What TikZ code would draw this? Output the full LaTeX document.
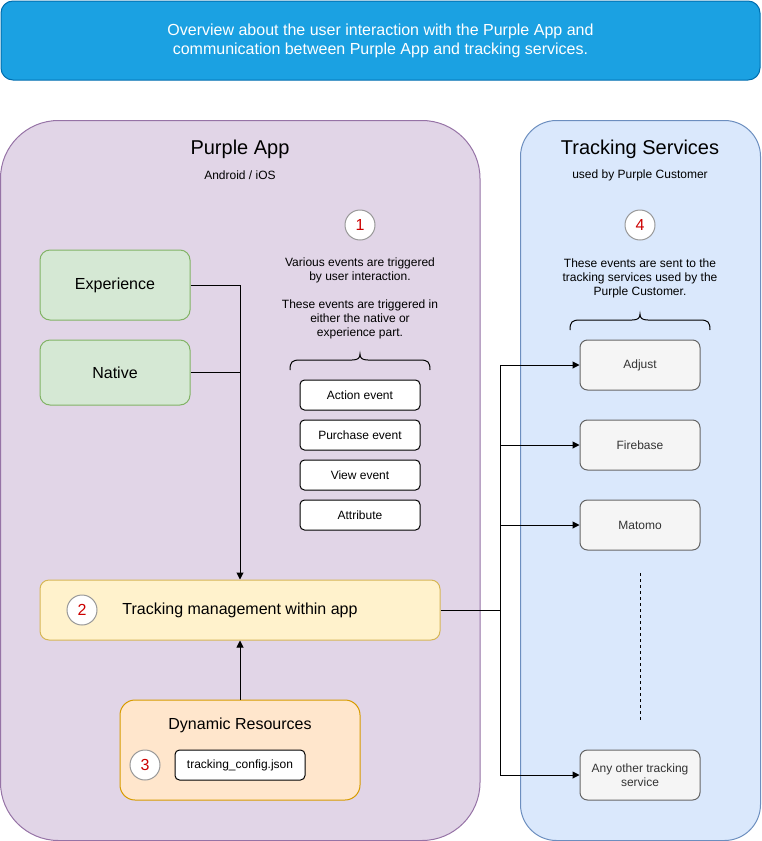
\documentclass[tikz,border=0pt]{standalone}
\usepackage{fontspec}
\setmainfont{Liberation Sans}
\usetikzlibrary{arrows.meta}
\definecolor{bannerfill}{HTML}{1BA1E2}
\definecolor{bannerdraw}{HTML}{006EAF}
\definecolor{purplefill}{HTML}{E1D5E7}
\definecolor{purpledraw}{HTML}{9673A6}
\definecolor{bluefill}{HTML}{DAE8FC}
\definecolor{bluedraw}{HTML}{6C8EBF}
\definecolor{greenfill}{HTML}{D5E8D4}
\definecolor{greendraw}{HTML}{82B366}
\definecolor{yellowfill}{HTML}{FFF2CC}
\definecolor{yellowdraw}{HTML}{D6B656}
\definecolor{orangefill}{HTML}{FFE6CC}
\definecolor{orangedraw}{HTML}{D79B00}
\definecolor{grayfill}{HTML}{F5F5F5}
\definecolor{graydraw}{HTML}{666666}
\definecolor{graytext}{HTML}{333333}
\definecolor{numred}{HTML}{CC0000}
\definecolor{circdraw}{HTML}{999999}
\tikzset{
  fs/.style 2 args={font=\fontsize{#1}{#2}\selectfont},
  container/.style={draw, line width=1pt, inner sep=0pt},
  greenbox/.style={draw=greendraw, fill=greenfill, rounded corners=10, line width=1pt,
    minimum width=150, minimum height=#1, fs={16}{19}},
  eventbox/.style={draw=black, fill=white, rounded corners=4.5, line width=1pt,
    minimum width=120, minimum height=30, fs={12}{14}},
  servicebox/.style={draw=graydraw, fill=grayfill, rounded corners=7.5, line width=1pt,
    minimum width=120, minimum height=50, fs={12}{14}, text=graytext, align=center},
  numcirc/.style={circle, draw=circdraw, fill=white, line width=1pt, minimum size=30,
    inner sep=0pt, text=numred, fs={16}{19}},
  conn/.style={line width=1pt, draw=black},
  arr/.style={conn, -{Triangle[length=7,width=7]}},
  plaintext/.style={align=center, fs={12}{14}, inner sep=0pt},
}
\begin{document}
\begin{tikzpicture}[x=1pt,y=-1pt]
\useasboundingbox (0,0) rectangle (761,841);
% banner
\node[draw=bannerdraw, fill=bannerfill, rounded corners=12, line width=1pt,
  minimum width=759, minimum height=79, text=white, align=center, fs={16}{19}] (banner) at (380.5,40.5)
  {Overview about the user interaction with the Purple App and\\communication between Purple App and tracking services.};
% containers
\draw[container, draw=purpledraw, fill=purplefill, rounded corners=58] (0.5,120.5) rectangle (480,840.5);
\draw[container, draw=bluedraw, fill=bluefill, rounded corners=36] (520.5,120.5) rectangle (760.5,840.5);
\node[fs={20}{24}, inner sep=0pt] (ptitle) at (240,149.5) {Purple App};
\node[fs={12}{14}, inner sep=0pt] (psub) at (240,175.5) {Android / iOS};
\node[fs={20}{24}, inner sep=0pt] (ttitle) at (640,149.5) {Tracking Services};
\node[fs={12}{14}, inner sep=0pt] (tsub) at (640,175.5) {used by Purple Customer};
% green boxes
\node[greenbox=70] (exp) at (115,285) {Experience};
\node[greenbox=65] (nat) at (115,372.5) {Native};
% step 1
\node[numcirc] (n1) at (360,225) {1};
\node[plaintext] (t1) at (360,298.5) {Various events are triggered\\by user interaction.\\[14pt]These events are triggered in\\either the native or\\experience part.};
\draw[line width=1pt] (290,370) .. controls (290,362) and (292,360) .. (300,360) -- (352,360)
  .. controls (358,360) and (360,358) .. (360,354) .. controls (360,358) and (362,360) .. (368,360)
  -- (420,360) .. controls (428,360) and (430,362) .. (430,370);
\node[eventbox] (ev1) at (360,395) {Action event};
\node[eventbox] (ev2) at (360,435) {Purchase event};
\node[eventbox] (ev3) at (360,475) {View event};
\node[eventbox] (ev4) at (360,515) {Attribute};
% tracking management
\node[draw=yellowdraw, fill=yellowfill, rounded corners=9, line width=1pt,
  minimum width=400, minimum height=60, fs={16}{19}] (tm) at (240,610) {Tracking management within app};
\node[numcirc] (n2) at (82,610) {2};
% dynamic resources
\node[draw=orangedraw, fill=orangefill, rounded corners=15, line width=1pt,
  minimum width=240, minimum height=100] (dyn) at (240,750) {};
\node[fs={16}{19}, inner sep=0pt] (dyntitle) at (240,725) {Dynamic Resources};
\node[numcirc] (n3) at (145,765) {3};
\node[eventbox, minimum width=130] (json) at (240,765) {tracking\_config.json};
% step 4
\node[numcirc] (n4) at (640,225) {4};
\node[plaintext] (t4) at (640,278) {These events are sent to the\\tracking services used by the\\Purple Customer.};
\draw[line width=1pt] (570,330) .. controls (570,322) and (572,320) .. (580,320) -- (632,320)
  .. controls (638,320) and (640,318) .. (640,314) .. controls (640,318) and (642,320) .. (648,320)
  -- (700,320) .. controls (708,320) and (710,322) .. (710,330);
% services
\node[servicebox] (adj) at (640,365) {Adjust};
\node[servicebox] (fire) at (640,445) {Firebase};
\node[servicebox] (mat) at (640,525) {Matomo};
\node[servicebox] (other) at (640,775) {Any other tracking\\service};
\coordinate (dtop) at (640,573);
\coordinate (dbot) at (640,720);
\draw[line width=1pt, dash pattern=on 3pt off 3pt] (dtop) -- (dbot);
% connectors
\draw[arr] (exp.east) -| (tm.north);
\draw[conn] (nat.east) -- (nat.east -| tm.north);
\draw[arr] (dyn.north) -- (tm.south);
\coordinate (bus) at (500,610);
\draw[conn] (tm.east) -- (bus);
\draw[arr] (bus) |- (adj.west);
\draw[arr] (bus) |- (fire.west);
\draw[arr] (bus) |- (mat.west);
\draw[arr] (bus) |- (other.west);
\end{tikzpicture}
\end{document}
